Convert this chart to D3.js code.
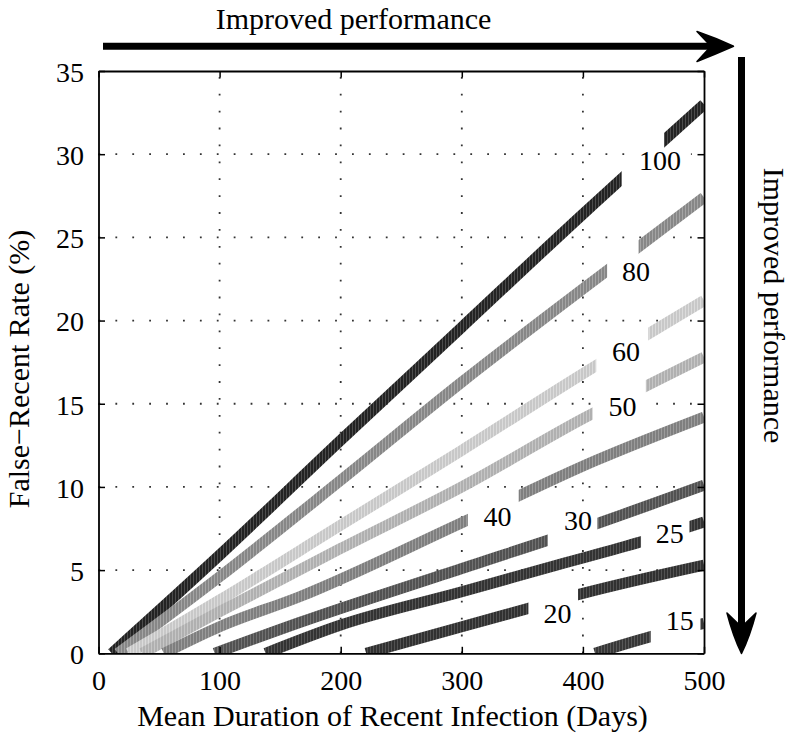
<!DOCTYPE html>
<html><head><meta charset="utf-8">
<script src="https://cdn.jsdelivr.net/npm/d3@7"></script>
<style>
body{margin:0;background:#fff}
svg{display:block}
text{font-family:"Liberation Serif","Times New Roman",serif;fill:#000}
</style>
</head><body><div id="chart"></div>
<script>
// ---------------- data ----------------
const xTicks = [0, 100, 200, 300, 400, 500];
const yTicks = [0, 5, 10, 15, 20, 25, 30, 35];
const contourLevels = [100, 80, 60, 50, 40, 30, 25, 20, 15];
// contour points: [Mean duration (days), False-recent rate (%)]
const contour100 = [[11,0],[100,5.9],[200,12.8],[300,19.6],[400,26.4],[500,33.0]];
const contour80  = [[16,0],[100,4.6],[200,10.4],[300,16.3],[400,21.9],[500,27.4]];
const contour60  = [[25,0],[100,3.2],[200,7.7],[300,12.2],[400,16.8],[500,21.2]];
const contour50  = [[36,0],[100,2.5],[200,6.3],[300,10.0],[400,14.1],[500,17.8]];
const contour40  = [[54,0],[100,1.6],[166,3.4],[300,7.85],[411,11.6],[500,14.2]];
const contour30  = [[96,0],[166,1.85],[300,5.1],[400,7.5],[500,10.1]];
const contour25  = [[138,0],[200,1.7],[300,3.7],[381,5.35],[448,6.7],[500,7.9]];
const contour20  = [[221,0],[300,1.6],[355,2.7],[400,3.6],[500,5.3]];
const contour15  = [[410,0],[456,1.0],[500,1.8]];
const contours = [contour100, contour80, contour60, contour50, contour40, contour30, contour25, contour20, contour15];
// label gaps along each contour (x range in days) and label anchors (data units)
const labelGapStart = [432, 420, 411, 408, 305, 371, 448, 355, 456];
const labelGapEnd   = [467, 446, 454, 452, 347, 412, 488, 396, 497];
const labelX = [463.6, 443.8, 435.5, 432.6, 329.4, 395.9, 471.8, 379.1, 480.0];
const labelY = [29.65, 23.0, 18.2, 14.86, 8.25, 8.0, 7.26, 2.42, 2.0];
const xTitle = "Mean Duration of Recent Infection (Days)";
const yTitle = "False\u2212Recent Rate (%)";
const arrowText = "Improved performance";

// ---------------- styles ----------------
const lineBase   = ["#232323","#878787","#c8c8c8","#b0b0b0","#7f7f7f","#525252","#333333","#313131","#373737"];
const lineStripe = ["#505050","#a8a8a8","#dddddd","#c9c9c9","#9e9e9e","#747474","#585858","#565656","#5c5c5c"];

const W = 791, H = 739;
const pL = 98.5, pR = 704, pT = 71, pB = 653.3;
const x = d3.scaleLinear().domain([0, 500]).range([pL, pR]);
const y = d3.scaleLinear().domain([0, 35]).range([pB, pT]);

const svg = d3.select("#chart").append("svg").attr("width", W).attr("height", H);
const defs = svg.append("defs");
defs.append("clipPath").attr("id","plotClip").append("rect")
  .attr("x", pL).attr("y", pT).attr("width", pR-pL).attr("height", pB-pT);

// grid (dotted)
const grid = svg.append("g");
xTicks.filter(v => v > 0 && v < 500).forEach(v => {
  grid.append("line").attr("x1", x(v)).attr("x2", x(v)).attr("y1", pB).attr("y2", pT)
    .attr("stroke", "#333").attr("stroke-width", 1.8).attr("stroke-dasharray", "1.8,15.1");
});
yTicks.filter(v => v > 0 && v < 35).forEach(v => {
  grid.append("line").attr("x1", pL).attr("x2", pR).attr("y1", y(v)).attr("y2", y(v))
    .attr("stroke", "#333").attr("stroke-width", 1.8).attr("stroke-dasharray", "1.8,15.1");
});

// label backgrounds (mask grid under labels)
const fs = 28;
const labelBg = svg.append("g");
contourLevels.forEach((lev, i) => {
  const w = String(lev).length * fs * 0.5;
  labelBg.append("rect")
    .attr("x", x(labelX[i]) - w/2 - 10).attr("y", y(labelY[i]) - fs*0.36 - 5)
    .attr("width", w + 20).attr("height", fs*0.72 + 10).attr("fill", "#fff");
});

// contour lines
const lineGen = d3.line().x(d => x(d[0])).y(d => y(d[1])).curve(d3.curveMonotoneX);
const linesG = svg.append("g").attr("clip-path", "url(#plotClip)");
contours.forEach((pts, i) => {
  const pat = defs.append("pattern").attr("id", "pat" + i).attr("patternUnits", "userSpaceOnUse")
    .attr("width", 3).attr("height", 3);
  pat.append("rect").attr("width", 3).attr("height", 3).attr("fill", lineBase[i]);
  pat.append("rect").attr("x", 1).attr("width", 0.9).attr("height", 3).attr("fill", lineStripe[i]);
  const m = defs.append("mask").attr("id", "mask" + i).attr("maskUnits", "userSpaceOnUse")
    .attr("x", 0).attr("y", 0).attr("width", W).attr("height", H);
  m.append("rect").attr("x", 0).attr("y", 0).attr("width", W).attr("height", H).attr("fill", "#fff");
  m.append("rect").attr("x", x(labelGapStart[i])).attr("y", 0)
    .attr("width", x(labelGapEnd[i]) - x(labelGapStart[i])).attr("height", H).attr("fill", "#000");
  linesG.append("path").datum(pts).attr("d", lineGen)
    .attr("fill", "none").attr("stroke", "url(#pat" + i + ")").attr("stroke-width", 11)
    .attr("stroke-linecap", "butt").attr("mask", "url(#mask" + i + ")");
});

// contour labels
const labelsG = svg.append("g");
contourLevels.forEach((lev, i) => {
  labelsG.append("text").attr("x", x(labelX[i])).attr("y", y(labelY[i]))
    .attr("dy", "0.36em").attr("text-anchor", "middle").attr("font-size", fs).text(lev);
});

// axes
function styleAxis(g) {
  g.attr("font-family", '"Liberation Serif","Times New Roman",serif').attr("font-size", fs);
  g.selectAll(".domain").attr("stroke", "#000").attr("stroke-width", 1.8);
  g.selectAll(".tick line").attr("stroke", "#000").attr("stroke-width", 1.5);
  g.selectAll(".tick text").attr("fill", "#000");
}
svg.append("g").attr("transform", `translate(0,${pB})`)
  .call(d3.axisBottom(x).tickValues(xTicks).tickSizeInner(-6.5).tickSizeOuter(0).tickPadding(16.8))
  .call(styleAxis);
svg.append("g").attr("transform", `translate(0,${pT})`)
  .call(d3.axisTop(x).tickValues(xTicks).tickSizeInner(-6.5).tickSizeOuter(0).tickFormat(""))
  .call(styleAxis);
const yAx = svg.append("g").attr("transform", `translate(${pL},0)`)
  .call(d3.axisLeft(y).tickValues(yTicks).tickSizeInner(-6.5).tickSizeOuter(0).tickPadding(14.5))
  .call(styleAxis);
yAx.selectAll(".tick text").attr("dy", "0.37em");
svg.append("g").attr("transform", `translate(${pR},0)`)
  .call(d3.axisRight(y).tickValues(yTicks).tickSizeInner(-6.5).tickSizeOuter(0).tickFormat(""))
  .call(styleAxis);

// axis titles
svg.append("text").attr("x", 392.5).attr("y", 726).attr("text-anchor", "middle")
  .attr("font-size", 30).text(xTitle);
svg.append("text").attr("transform", "translate(29,369) rotate(-90)").attr("text-anchor", "middle")
  .attr("font-size", 30).text(yTitle);

// performance arrows
svg.append("text").attr("x", 353.5).attr("y", 29).attr("text-anchor", "middle")
  .attr("font-size", 30).text(arrowText);
svg.append("line").attr("x1", 103).attr("x2", 712).attr("y1", 46.3).attr("y2", 46.3)
  .attr("stroke", "#000").attr("stroke-width", 7);
svg.append("path").attr("d", "M733.5,46.3 Q716,38 697,31.5 L711,46.3 L697,61.5 Q716,54 733.5,46.3 Z")
  .attr("fill", "#000").attr("stroke", "#000").attr("stroke-width", 1.5).attr("stroke-linejoin", "round");

svg.append("text").attr("transform", "translate(764,305.5) rotate(90)").attr("text-anchor", "middle")
  .attr("font-size", 30).text(arrowText);
svg.append("line").attr("x1", 741.5).attr("x2", 741.5).attr("y1", 57).attr("y2", 628)
  .attr("stroke", "#000").attr("stroke-width", 7);
svg.append("path").attr("d", "M741.5,653.5 Q733,636 727,613 L741.5,627 L756,613 Q750,636 741.5,653.5 Z")
  .attr("fill", "#000").attr("stroke", "#000").attr("stroke-width", 1.5).attr("stroke-linejoin", "round");
</script>
</body></html>
